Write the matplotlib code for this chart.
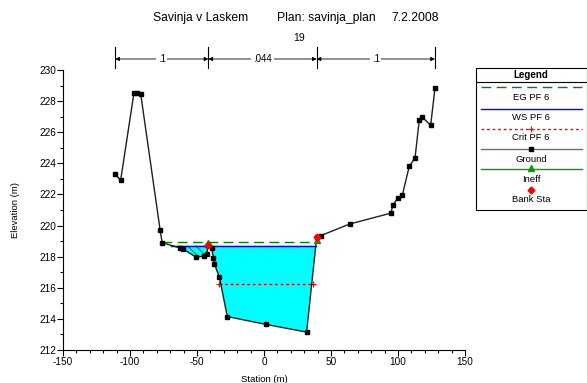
import numpy as np
import matplotlib
matplotlib.use("Agg")
import matplotlib.pyplot as plt
from matplotlib.transforms import blended_transform_factory

plt.rcParams['font.family'] = ['Liberation Sans', 'DejaVu Sans']
plt.rcParams['hatch.linewidth'] = 0.9
plt.rcParams['hatch.color'] = '#00A060'
plt.rcParams['axes.unicode_minus'] = False

# ---------------- data ----------------
ground_x = [-111, -107, -97, -95, -92, -77.5, -76, -62.5, -60.5, -50.5, -44.5, -42.8,
            -41.5, -39, -37.8, -37, -33.3, -27.4, 1.2, 31.8, 39.3, 42.3, 64, 94.8,
            96, 99.8, 103.2, 108.4, 112.7, 115.9, 117.7, 124.4, 127.6]
ground_y = [223.3, 222.9, 228.55, 228.5, 228.45, 219.7, 218.9, 218.55, 218.5, 217.95,
            218.05, 218.17, 218.75, 218.55, 217.9, 217.5, 216.7, 214.15, 213.65,
            213.15, 219.25, 219.35, 220.1, 220.8, 221.3, 221.75, 221.95, 223.8,
            224.35, 226.8, 227.0, 226.45, 228.85]
bank_x = [-41.5, 39.3]
bank_y = [218.75, 219.25]
ineff_x = [-41.5, 39.3]
ineff_y = [218.9, 219.1]
ws_elev = 218.71
ws_x = [-69.5, 39.1]
eg_elev = 218.93
eg_x = [-76, 39.3]
crit_elev = 216.25
crit_x = [-33.3, 36.8]
reach_bounds = [-111, -41.5, 39.3, 127.6]
reach_n = ['.1', '.044', '.1']
title_parts = ['Savinja v Laskem', 'Plan: savinja_plan', '7.2.2008']
xs_label = '19'
legend_labels = ['EG PF 6', 'WS PF 6', 'Crit PF 6', 'Ground', 'Ineff', 'Bank Sta']

W, H = 587, 383
fig = plt.figure(figsize=(W / 100, H / 100), dpi=100)
ax = fig.add_axes([63 / W, 1 - 350 / H, (465 - 63) / W, (350 - 70) / H])

# water fill
xf = np.linspace(min(ground_x), max(ground_x), 4000)
gf = np.interp(xf, ground_x, ground_y)
in_ws = (xf >= ws_x[0]) & (xf <= ws_x[1]) & (gf < ws_elev)
left = in_ws & (xf <= bank_x[0])
main = in_ws & (xf >= bank_x[0])
ax.fill_between(xf, gf, ws_elev, where=main, facecolor='#00FFFF', edgecolor='none',
                linewidth=0, zorder=1)
ax.fill_between(xf, gf, ws_elev, where=left, facecolor='#00FFFF', edgecolor='none',
                linewidth=0, zorder=1)
ax.fill_between(xf, gf, ws_elev, where=left, facecolor='none', edgecolor='#00A060',
                hatch='\\\\\\\\', linewidth=0.0, zorder=1.5)

# EG, WS, Crit
ax.plot(eg_x, [eg_elev] * 2, color='#008000', lw=1.0, dashes=(7, 4), zorder=3)
ax.plot(ws_x, [ws_elev] * 2, color='#0000FF', lw=1.0, zorder=3)
ax.plot(crit_x, [crit_elev] * 2, color='#FF0000', lw=1.0, dashes=(2, 2), zorder=3)
ax.plot(crit_x, [crit_elev] * 2, ls='none', marker='+', color='#FF0000', ms=5, mew=0.9, zorder=3)

# ground
ax.plot(ground_x, ground_y, color='#202020', lw=1.0, marker='s', ms=3.5,
        mfc='black', mec='black', zorder=4)
# ineff & bank stations
ax.plot(ineff_x, ineff_y, ls='none', marker='^', color='#00A000', ms=4, zorder=5)
ax.plot(bank_x, bank_y, ls='none', marker='D', color='#FF0000', ms=3.5, mec='#FF0000', zorder=6)

ax.set_xlim(-150, 150)
ax.set_ylim(212, 230)
ax.set_xticks(np.arange(-150, 151, 50))
ax.set_xticks(np.arange(-150, 151, 10), minor=True)
ax.set_yticks(np.arange(212, 231, 2))
ax.set_yticks(np.arange(213, 230, 2), minor=True)
for s in ['top', 'right']:
    ax.spines[s].set_visible(False)
for s in ['left', 'bottom']:
    ax.spines[s].set_linewidth(0.8)
ax.tick_params(which='major', direction='out', length=4, width=0.8, labelsize=7.2, pad=1)
ax.tick_params(which='minor', direction='out', length=2.5, width=0.8)
ax.set_xlabel('Station (m)', fontsize=6.8, labelpad=6)
ax.set_ylabel('Elevation (m)', fontsize=6.8, labelpad=14)

# reach bounds / Manning n on top
tr = blended_transform_factory(ax.transData, ax.transAxes)
ytop = (350 - 59) / 280
for b in reach_bounds:
    ax.plot([b, b], [(350 - 68) / 280, (350 - 47) / 280], color='black', lw=0.8,
            transform=tr, clip_on=False)
for i, n in enumerate(reach_n):
    a, b = reach_bounds[i], reach_bounds[i + 1]
    mid = (a + b) / 2
    ax.annotate('', xy=(a, ytop), xytext=(mid, ytop), xycoords=tr, textcoords=tr,
                arrowprops=dict(arrowstyle='-|>', color='black', lw=0.6,
                                mutation_scale=6, shrinkA=0, shrinkB=0))
    ax.annotate('', xy=(b, ytop), xytext=(mid, ytop), xycoords=tr, textcoords=tr,
                arrowprops=dict(arrowstyle='-|>', color='black', lw=0.6,
                                mutation_scale=6, shrinkA=0, shrinkB=0))
    ax.text(mid, ytop, n, transform=tr, ha='center', va='center', fontsize=7,
            bbox=dict(facecolor='white', edgecolor='none', pad=1.2), clip_on=False)

# title
fig.text(152.7 / W, 1 - 18 / H, title_parts[0], fontsize=8.7, va='center', ha='left')
fig.text(276.7 / W, 1 - 18 / H, title_parts[1], fontsize=8.7, va='center', ha='left')
fig.text(391.7 / W, 1 - 18 / H, title_parts[2], fontsize=8.7, va='center', ha='left')
fig.text(299 / W, 1 - 38 / H, xs_label, fontsize=7.5, va='center', ha='center')

# legend (manual)
lg = fig.add_axes([0, 0, 1, 1], facecolor='none')
lg.set_xlim(0, W)
lg.set_ylim(H, 0)
lg.axis('off')
lg.add_patch(plt.Rectangle((475.5, 67.5), 111, 142, facecolor='white',
                           edgecolor='black', lw=0.8))
lg.plot([475.5, 587], [82.3, 82.3], color='black', lw=0.8)
lg.text(531, 74.5, 'Legend', fontsize=7, fontweight='bold', ha='center', va='center')
x0, x1, xc = 481, 582, 531
lg.plot([x0, x1], [87.3, 87.3], color='#008000', lw=1.0, dashes=(7, 4))
lg.plot([x0, x1], [108.7, 108.7], color='#0000FF', lw=1.0)
lg.plot([x0, x1], [128.7, 128.7], color='#FF0000', lw=1.0, dashes=(2, 2))
lg.plot([xc], [128.7], marker='+', color='#FF0000', ms=5, mew=0.9)
lg.plot([x0, x1], [149, 149], color='#707070', lw=1.0)
lg.plot([xc], [149], marker='s', color='black', ms=3.5)
lg.plot([x0, x1], [169.3, 169.3], color='#00A000', lw=1.0)
lg.plot([xc], [168.3], marker='^', color='#00A000', ms=4.5)
lg.plot([xc], [190], marker='D', color='#FF0000', ms=3.5)
for lab, yy in zip(legend_labels, [97.3, 117.7, 138, 159, 179.3, 199.3]):
    lg.text(xc, yy, lab, fontsize=6.8, ha='center', va='center')

fig.savefig('out.png', dpi=100, facecolor='white')
